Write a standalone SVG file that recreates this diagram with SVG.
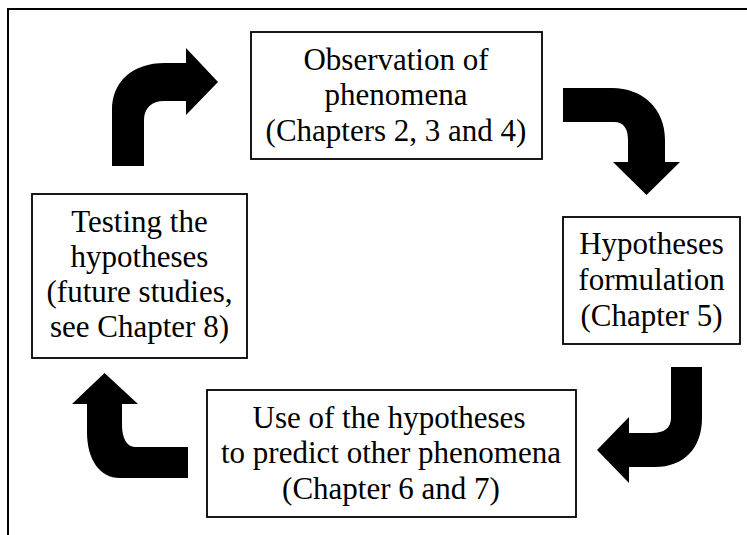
<svg xmlns="http://www.w3.org/2000/svg" width="747" height="535" viewBox="0 0 747 535">
  <style>
    .frame { fill: none; stroke: #000; stroke-width: 2; }
    .box { fill: #fff; stroke: #000; stroke-width: 1.8; }
    .label { font-family: 'Liberation Serif', serif; font-size: 31px; fill: #000; text-anchor: middle; }
    .arrow { fill: #000; stroke: none; }
  </style>
  <rect width="747" height="535" fill="#fff"/>
  <!-- outer frame, open to the right and bottom -->
  <rect class="frame" x="8" y="9" width="760" height="560"/>

  <g id="observation">
    <rect class="box" x="251" y="32" width="291" height="127"/>
    <text class="label" x="396" y="69.5">Observation of</text>
    <text class="label" x="396" y="105">phenomena</text>
    <text class="label" x="396" y="140.5">(Chapters 2, 3 and 4)</text>
  </g>

  <g id="formulation">
    <rect class="box" x="563" y="217" width="177" height="127"/>
    <text class="label" x="651.5" y="254">Hypotheses</text>
    <text class="label" x="651.5" y="290">formulation</text>
    <text class="label" x="651.5" y="326">(Chapter 5)</text>
  </g>

  <g id="prediction">
    <rect class="box" x="207" y="390" width="369" height="127"/>
    <text class="label" x="389" y="428">Use of the hypotheses</text>
    <text class="label" x="391" y="463">to predict other phenomena</text>
    <text class="label" x="391" y="498.5">(Chapter 6 and 7)</text>
  </g>

  <g id="testing">
    <rect class="box" x="32" y="194" width="215" height="164"/>
    <text class="label" x="139.5" y="232">Testing the</text>
    <text class="label" x="139.5" y="267">hypotheses</text>
    <text class="label" x="139.5" y="302">(future studies,</text>
    <text class="label" x="139.5" y="337">see Chapter 8)</text>
  </g>

  <g id="connectors">
    <!-- testing -> observation -->
    <path class="arrow" d="M112,166 V110 C112,82 132,63 165,63 H186 V48 L218,82 L186,115 V101 H164 C152,101 144,108 144,120 V166 Z"/>
    <!-- observation -> formulation -->
    <path class="arrow" d="M563,88 H612 C642,88 665,108 665,140 V162 H680 L646.5,195 L613,162 H628 V140 C628,129 624,122 614,122 H563 Z"/>
    <!-- formulation -> prediction -->
    <path class="arrow" d="M671,367 H702 V418 C702,448 684,467 655,467 H629 V483 L597,450 L629,417 V433 H652 C664,433 671,428 671,418 Z"/>
    <!-- prediction -> testing -->
    <path class="arrow" d="M188,447 H135 C127,447 122,438 122,425 V404 H138 L104.5,373 L72,404 H87 V432 C87,460 100,478 120,478 H188 Z"/>
  </g>
</svg>
